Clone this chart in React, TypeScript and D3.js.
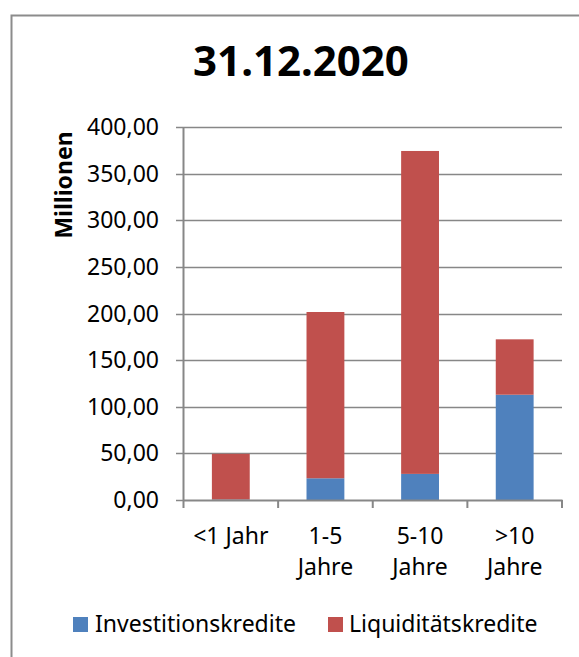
import React from "react";
import * as d3 from "d3";

const categories: string[][] = [["<1 Jahr"], ["1-5", "Jahre"], ["5-10", "Jahre"], [">10", "Jahre"]];
const categoryKeys = ["<1 Jahr", "1-5 Jahre", "5-10 Jahre", ">10 Jahre"];
const investitionskredite = [0.5, 23.3, 28.0, 112.9];
const liquiditaetskredite = [49.0, 178.3, 346.3, 59.4];
const yTicks = [0, 50, 100, 150, 200, 250, 300, 350, 400];
const seriesNames = ["Investitionskredite", "Liquiditätskredite"];
const seriesColors = ["#4F81BD", "#C0504D"];
const title = "31.12.2020";
const yTitle = "Millionen";

const W = 579;
const H = 657;
const FONT = "'Noto Sans', 'Open Sans', sans-serif";
const FS = 23;

export default function App() {
  const x = d3.scaleBand<string>().domain(categoryKeys).range([183.5, 562]).paddingInner(0.6).paddingOuter(0.3);
  const xOuter = d3.scaleBand<string>().domain(categoryKeys).range([183.5, 562]);
  const y = d3.scaleLinear().domain([0, 400]).range([500, 127]);
  const fmt = (v: number) => v.toFixed(2).replace(".", ",");
  const rows = categoryKeys.map((k, i) => ({ key: k, inv: investitionskredite[i], liq: liquiditaetskredite[i] }));
  const stack = d3.stack<any>().keys(["inv", "liq"])(rows);
  const grid = "#878787";

  return (
    <svg width={W} height={H} style={{ display: "block", position: "absolute", left: 0, top: 0 }} fontFamily={FONT}>
      <rect x={0} y={0} width={W} height={H} fill="#fff" />
      <rect x={11.5} y={15.5} width={700} height={800} fill="#fff" stroke="#8c8c8c" strokeWidth={2} />
      <text x={301} y={76} textAnchor="middle" fontSize={42} fontWeight="bold" fill="#000">{title}</text>
      {yTicks.map((t) => (
        <g key={t}>
          {t > 0 && <line x1={183.5} x2={562} y1={Math.round(y(t)) + 0.5} y2={Math.round(y(t)) + 0.5} stroke={grid} strokeWidth={1.5} />}
          <line x1={176} x2={183.5} y1={Math.round(y(t)) + 0.5} y2={Math.round(y(t)) + 0.5} stroke={grid} strokeWidth={1.5} />
          <text x={159} y={y(t) + 8} textAnchor="end" fontSize={FS} fill="#000">{fmt(t)}</text>
        </g>
      ))}
      {stack.map((s, si) => (
        <g key={si} fill={seriesColors[si]}>
          {s.map((d: any, i: number) => (
            <rect key={i} x={x(categoryKeys[i])} width={x.bandwidth()} y={y(d[1])} height={y(d[0]) - y(d[1])} />
          ))}
        </g>
      ))}
      <line x1={183.5} x2={183.5} y1={127} y2={500} stroke={grid} strokeWidth={2} />
      <line x1={183.5} x2={562.5} y1={500.5} y2={500.5} stroke={grid} strokeWidth={2} />
      {[...categoryKeys.map((k) => xOuter(k)!), 562].map((px, i) => (
        <line key={i} x1={px} x2={px} y1={500} y2={508} stroke={grid} strokeWidth={2} />
      ))}
      {categories.map((lines, i) => (
        <text key={i} textAnchor="middle" fontSize={FS} fill="#000">
          {lines.map((l, j) => (
            <tspan key={j} x={xOuter(categoryKeys[i])! + xOuter.bandwidth() / 2} y={544 + j * 31}>{l}</tspan>
          ))}
        </text>
      ))}
      <text transform="translate(72,185) rotate(-90)" textAnchor="middle" fontSize={FS} fontWeight="bold" fill="#000">{yTitle}</text>
      {seriesNames.map((n, i) => (
        <g key={n}>
          <rect x={i === 0 ? 73 : 328} y={617} width={15} height={15} fill={seriesColors[i]} />
          <text x={i === 0 ? 95 : 349} y={632} fontSize={FS} fill="#000">{n}</text>
        </g>
      ))}
    </svg>
  );
}
